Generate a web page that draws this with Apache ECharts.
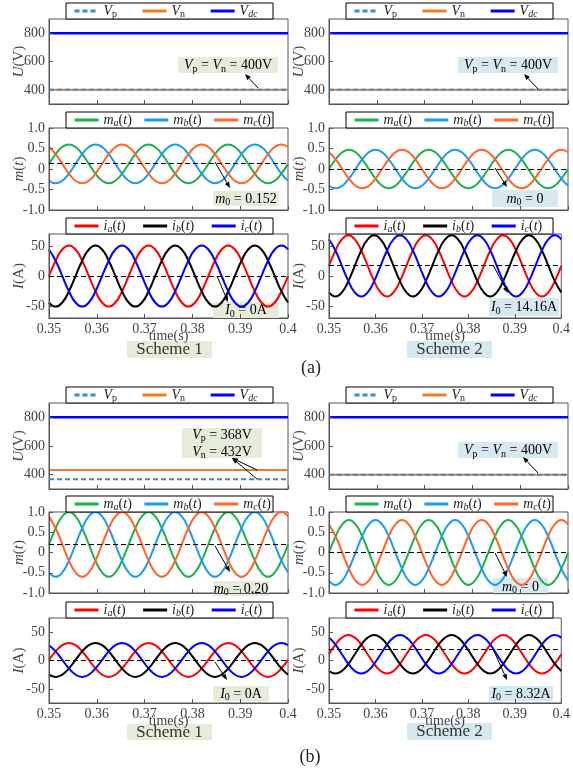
<!DOCTYPE html>
<html><head><meta charset="utf-8">
<script src="https://cdn.jsdelivr.net/npm/echarts@6/dist/echarts.min.js"></script>
<style>html,body{margin:0;padding:0;background:#fff}#c{width:573px;height:770px}</style>
</head><body><div id="c"></div>
<script>
// ---------------- DATA ----------------
const timeS = [0.35,0.351389,0.352778,0.354167,0.355556,0.356944,0.358333,0.359722,0.361111,0.3625,0.363889,0.365278,0.366667,0.368056,0.369444,0.370833,0.372222,0.373611,0.375,0.376389,0.377778,0.379167,0.380556,0.381944,0.383333,0.384722,0.386111,0.3875,0.388889,0.390278,0.391667,0.393056,0.394444,0.395833,0.397222,0.398611,0.4];
const uTime = [0.35, 0.4];
const xTicks = [0.35,0.36,0.37,0.38,0.39,0.4];
const uTicks = [400,600,800];
const mTicks = [-1,-0.5,0,0.5,1];
const iTicks = [-50,0,50];

// (a) Scheme 1 / Scheme 2 voltages
const vp_a1 = [400,400], vn_a1 = [400,400], vdc_a1 = [800,800];
const vp_a2 = [400,400], vn_a2 = [400,400], vdc_a2 = [800,800];
// (b)
const vp_b1 = [368,368], vn_b1 = [432,432], vdc_b1 = [800,800];
const vp_b2 = [400,400], vn_b2 = [400,400], vdc_b2 = [800,800];

// (a) Scheme 1 modulation
const ma_a1 = [0.125,0.363,0.536,0.6,0.536,0.363,0.125,-0.113,-0.286,-0.35,-0.286,-0.113,0.125,0.363,0.536,0.6,0.536,0.363,0.125,-0.113,-0.286,-0.35,-0.286,-0.113,0.125,0.363,0.536,0.6,0.536,0.363,0.125,-0.113,-0.286,-0.35,-0.286,-0.113,0.125];
const mb_a1 = [-0.286,-0.35,-0.286,-0.113,0.125,0.363,0.536,0.6,0.536,0.363,0.125,-0.113,-0.286,-0.35,-0.286,-0.113,0.125,0.363,0.536,0.6,0.536,0.363,0.125,-0.113,-0.286,-0.35,-0.286,-0.113,0.125,0.363,0.536,0.6,0.536,0.363,0.125,-0.113,-0.286];
const mc_a1 = [0.536,0.363,0.125,-0.113,-0.286,-0.35,-0.286,-0.113,0.125,0.363,0.536,0.6,0.536,0.363,0.125,-0.113,-0.286,-0.35,-0.286,-0.113,0.125,0.363,0.536,0.6,0.536,0.363,0.125,-0.113,-0.286,-0.35,-0.286,-0.113,0.125,0.363,0.536,0.6,0.536];
// (a) Scheme 2 modulation
const ma_a2 = [0,0.235,0.407,0.47,0.407,0.235,0,-0.235,-0.407,-0.47,-0.407,-0.235,0,0.235,0.407,0.47,0.407,0.235,0,-0.235,-0.407,-0.47,-0.407,-0.235,0,0.235,0.407,0.47,0.407,0.235,0,-0.235,-0.407,-0.47,-0.407,-0.235,0];
const mb_a2 = [-0.407,-0.47,-0.407,-0.235,0,0.235,0.407,0.47,0.407,0.235,0,-0.235,-0.407,-0.47,-0.407,-0.235,0,0.235,0.407,0.47,0.407,0.235,0,-0.235,-0.407,-0.47,-0.407,-0.235,0,0.235,0.407,0.47,0.407,0.235,0,-0.235,-0.407];
const mc_a2 = [0.407,0.235,0,-0.235,-0.407,-0.47,-0.407,-0.235,0,0.235,0.407,0.47,0.407,0.235,0,-0.235,-0.407,-0.47,-0.407,-0.235,0,0.235,0.407,0.47,0.407,0.235,0,-0.235,-0.407,-0.47,-0.407,-0.235,0,0.235,0.407,0.47,0.407];
// (a) Scheme 1 currents
const ia_a1 = [0,25.5,44.2,51,44.2,25.5,0,-25.5,-44.2,-51,-44.2,-25.5,0,25.5,44.2,51,44.2,25.5,0,-25.5,-44.2,-51,-44.2,-25.5,0,25.5,44.2,51,44.2,25.5,0,-25.5,-44.2,-51,-44.2,-25.5,0];
const ib_a1 = [-44.2,-51,-44.2,-25.5,0,25.5,44.2,51,44.2,25.5,0,-25.5,-44.2,-51,-44.2,-25.5,0,25.5,44.2,51,44.2,25.5,0,-25.5,-44.2,-51,-44.2,-25.5,0,25.5,44.2,51,44.2,25.5,0,-25.5,-44.2];
const ic_a1 = [44.2,25.5,0,-25.5,-44.2,-51,-44.2,-25.5,0,25.5,44.2,51,44.2,25.5,0,-25.5,-44.2,-51,-44.2,-25.5,0,25.5,44.2,51,44.2,25.5,0,-25.5,-44.2,-51,-44.2,-25.5,0,25.5,44.2,51,44.2];
// (a) Scheme 2 currents
const ia_a2 = [17,42.5,61.2,68,61.2,42.5,17,-8.5,-27.2,-34,-27.2,-8.5,17,42.5,61.2,68,61.2,42.5,17,-8.5,-27.2,-34,-27.2,-8.5,17,42.5,61.2,68,61.2,42.5,17,-8.5,-27.2,-34,-27.2,-8.5,17];
const ib_a2 = [-27.2,-34,-27.2,-8.5,17,42.5,61.2,68,61.2,42.5,17,-8.5,-27.2,-34,-27.2,-8.5,17,42.5,61.2,68,61.2,42.5,17,-8.5,-27.2,-34,-27.2,-8.5,17,42.5,61.2,68,61.2,42.5,17,-8.5,-27.2];
const ic_a2 = [61.2,42.5,17,-8.5,-27.2,-34,-27.2,-8.5,17,42.5,61.2,68,61.2,42.5,17,-8.5,-27.2,-34,-27.2,-8.5,17,42.5,61.2,68,61.2,42.5,17,-8.5,-27.2,-34,-27.2,-8.5,17,42.5,61.2,68,61.2];
// (b) Scheme 1 modulation
const ma_b1 = [0.2,0.6,0.893,1,0.893,0.6,0.2,-0.2,-0.493,-0.6,-0.493,-0.2,0.2,0.6,0.893,1,0.893,0.6,0.2,-0.2,-0.493,-0.6,-0.493,-0.2,0.2,0.6,0.893,1,0.893,0.6,0.2,-0.2,-0.493,-0.6,-0.493,-0.2,0.2];
const mb_b1 = [-0.493,-0.6,-0.493,-0.2,0.2,0.6,0.893,1,0.893,0.6,0.2,-0.2,-0.493,-0.6,-0.493,-0.2,0.2,0.6,0.893,1,0.893,0.6,0.2,-0.2,-0.493,-0.6,-0.493,-0.2,0.2,0.6,0.893,1,0.893,0.6,0.2,-0.2,-0.493];
const mc_b1 = [0.893,0.6,0.2,-0.2,-0.493,-0.6,-0.493,-0.2,0.2,0.6,0.893,1,0.893,0.6,0.2,-0.2,-0.493,-0.6,-0.493,-0.2,0.2,0.6,0.893,1,0.893,0.6,0.2,-0.2,-0.493,-0.6,-0.493,-0.2,0.2,0.6,0.893,1,0.893];
// (b) Scheme 2 modulation
const ma_b2 = [0,0.4,0.693,0.8,0.693,0.4,0,-0.4,-0.693,-0.8,-0.693,-0.4,0,0.4,0.693,0.8,0.693,0.4,0,-0.4,-0.693,-0.8,-0.693,-0.4,0,0.4,0.693,0.8,0.693,0.4,0,-0.4,-0.693,-0.8,-0.693,-0.4,0];
const mb_b2 = [-0.693,-0.8,-0.693,-0.4,0,0.4,0.693,0.8,0.693,0.4,0,-0.4,-0.693,-0.8,-0.693,-0.4,0,0.4,0.693,0.8,0.693,0.4,0,-0.4,-0.693,-0.8,-0.693,-0.4,0,0.4,0.693,0.8,0.693,0.4,0,-0.4,-0.693];
const mc_b2 = [0.693,0.4,0,-0.4,-0.693,-0.8,-0.693,-0.4,0,0.4,0.693,0.8,0.693,0.4,0,-0.4,-0.693,-0.8,-0.693,-0.4,0,0.4,0.693,0.8,0.693,0.4,0,-0.4,-0.693,-0.8,-0.693,-0.4,0,0.4,0.693,0.8,0.693];
// (b) Scheme 1 currents
const ia_b1 = [1,16,27,31,27,16,1,-14,-25,-29,-25,-14,1,16,27,31,27,16,1,-14,-25,-29,-25,-14,1,16,27,31,27,16,1,-14,-25,-29,-25,-14,1];
const ib_b1 = [-25,-29,-25,-14,1,16,27,31,27,16,1,-14,-25,-29,-25,-14,1,16,27,31,27,16,1,-14,-25,-29,-25,-14,1,16,27,31,27,16,1,-14,-25];
const ic_b1 = [27,16,1,-14,-25,-29,-25,-14,1,16,27,31,27,16,1,-14,-25,-29,-25,-14,1,16,27,31,27,16,1,-14,-25,-29,-25,-14,1,16,27,31,27];
// (b) Scheme 2 currents
const ia_b2 = [11,28,40.4,45,40.4,28,11,-6,-18.4,-23,-18.4,-6,11,28,40.4,45,40.4,28,11,-6,-18.4,-23,-18.4,-6,11,28,40.4,45,40.4,28,11,-6,-18.4,-23,-18.4,-6,11];
const ib_b2 = [-18.4,-23,-18.4,-6,11,28,40.4,45,40.4,28,11,-6,-18.4,-23,-18.4,-6,11,28,40.4,45,40.4,28,11,-6,-18.4,-23,-18.4,-6,11,28,40.4,45,40.4,28,11,-6,-18.4];
const ic_b2 = [40.4,28,11,-6,-18.4,-23,-18.4,-6,11,28,40.4,45,40.4,28,11,-6,-18.4,-23,-18.4,-6,11,28,40.4,45,40.4,28,11,-6,-18.4,-23,-18.4,-6,11,28,40.4,45,40.4];

// reference (dashed) levels m0 / I0
const ref_m_a1 = 0.152, ref_m_a2 = 0, ref_i_a1 = 0, ref_i_a2 = 18;
const ref_m_b1 = 0.2, ref_m_b2 = 0, ref_i_b1 = 0, ref_i_b2 = 19;

// ---------------- LAYOUT / STYLE ----------------
const FONT = '"Liberation Serif", "Times New Roman", serif';
const colLeft = [49, 329];
const PW = 239;
const rows = [
  {top:19, h:85, kind:'U', min:300, max:900},
  {top:128, h:82, kind:'m', min:-1, max:1},
  {top:234, h:84, kind:'I', min:-70, max:70},
  {top:403, h:86, kind:'U', min:300, max:900},
  {top:512, h:81, kind:'m', min:-1, max:1},
  {top:618, h:85, kind:'I', min:-75, max:75}
];
const panels = [
  {row:0,col:0,ser:[vp_a1,vn_a1,vdc_a1]},
  {row:0,col:1,ser:[vp_a2,vn_a2,vdc_a2]},
  {row:1,col:0,ser:[ma_a1,mb_a1,mc_a1],ref:ref_m_a1},
  {row:1,col:1,ser:[ma_a2,mb_a2,mc_a2],ref:ref_m_a2},
  {row:2,col:0,ser:[ia_a1,ib_a1,ic_a1],ref:ref_i_a1},
  {row:2,col:1,ser:[ia_a2,ib_a2,ic_a2],ref:ref_i_a2},
  {row:3,col:0,ser:[vp_b1,vn_b1,vdc_b1]},
  {row:3,col:1,ser:[vp_b2,vn_b2,vdc_b2]},
  {row:4,col:0,ser:[ma_b1,mb_b1,mc_b1],ref:ref_m_b1},
  {row:4,col:1,ser:[ma_b2,mb_b2,mc_b2],ref:ref_m_b2},
  {row:5,col:0,ser:[ia_b1,ib_b1,ic_b1],ref:ref_i_b1},
  {row:5,col:1,ser:[ia_b2,ib_b2,ic_b2],ref:ref_i_b2}
];
const kindDef = {
  U:{names:['Vp','Vn','Vdc'], colors:['#2f8fd6','#ee7d22','#0000ff'], ticks:uTicks, yname:'{i|U}{r|(V)}', legGap:24},
  m:{names:['ma','mb','mc'], colors:['#1db04c','#1d9bf0','#ff6428'], ticks:mTicks, yname:'{i|m}{r|(}{i|t}{r|)}', legGap:11},
  I:{names:['ia','ib','ic'], colors:['#ff0000','#000000','#0000ff'], ticks:iTicks, yname:'{i|I}{r|(A)}', legGap:16}
};
const legendText = {
  Vp:'{i|V}{s|p}', Vn:'{i|V}{s|n}', Vdc:'{i|V}{si|dc}',
  ma:'{i|m}{si|a}{r|(}{i|t}{r|)}', mb:'{i|m}{si|b}{r|(}{i|t}{r|)}', mc:'{i|m}{si|c}{r|(}{i|t}{r|)}',
  ia:'{i|i}{si|a}{r|(}{i|t}{r|)}', ib:'{i|i}{si|b}{r|(}{i|t}{r|)}', ic:'{i|i}{si|c}{r|(}{i|t}{r|)}'
};
function rich(size, color){
  const sub = Math.round(size*0.68);
  return {
    i:{fontFamily:FONT,fontStyle:'italic',fontSize:size,lineHeight:size+3,verticalAlign:'middle',color:color},
    r:{fontFamily:FONT,fontSize:size,lineHeight:size+3,verticalAlign:'middle',color:color},
    s:{fontFamily:FONT,fontSize:sub,lineHeight:sub,verticalAlign:'bottom',color:color},
    si:{fontFamily:FONT,fontStyle:'italic',fontSize:sub,lineHeight:sub,verticalAlign:'bottom',color:color}
  };
}
const G1 = '#e5ecda', G2 = '#d6e9f0';
const notes = [
  {box:[178,57,100,16], bg:G1, text:'{i|V}{s|p}{r| = }{i|V}{s|n}{r| = 400V}', arrows:[[258,88,245,74]]},
  {box:[458,57,100,16], bg:G2, text:'{i|V}{s|p}{r| = }{i|V}{s|n}{r| = 400V}', arrows:[[538,89,524,74]]},
  {box:[213,191,66,15], bg:G1, text:'{i|m}{s|0}{r| = 0.152}', arrows:[[215,162,230,188]]},
  {box:[492,190,66,17], bg:G2, text:'{i|m}{s|0}{r| = 0}', arrows:[[495,168,507,187]]},
  {box:[213,302,66,16], bg:G1, text:'{i|I}{s|0}{r| = 0A}', arrows:[[217,276,228,302]]},
  {box:[489,298,70,18], bg:G2, text:'{i|I}{s|0}{r| = 14.16A}', arrows:[[493,265,508,293]]},
  {box:[182,428,80,30], bg:G1, text:'{i|V}{s|p}{r| = 368V}\n{i|V}{s|n}{r| = 432V}', arrows:[[257,470,232,458],[257,479,232,458]]},
  {box:[458,442,100,16], bg:G2, text:'{i|V}{s|p}{r| = }{i|V}{s|n}{r| = 400V}', arrows:[[538,473,523,457]]},
  {box:[213,581,56,15], bg:G1, text:'{i|m}{s|0}{r| = 0.20}', arrows:[[215,546,230,572]]},
  {box:[493,578,55,17], bg:G2, text:'{i|m}{s|0}{r| = 0}', arrows:[[495,553,507,577]]},
  {box:[213,686,56,15], bg:G1, text:'{i|I}{s|0}{r| = 0A}', arrows:[[215,662,227,680]]},
  {box:[489,686,64,15], bg:G2, text:'{i|I}{s|0}{r| = 8.32A}', arrows:[[493,649,507,680]]}
];
const schemes = [
  {box:[127,341,85,17], bg:G1, text:'Scheme 1'},
  {box:[407,341,85,17], bg:G2, text:'Scheme 2'},
  {box:[127,724,85,16], bg:G1, text:'Scheme 1'},
  {box:[407,723,85,17], bg:G2, text:'Scheme 2'}
];

// ---------------- BUILD ----------------
const grid=[], xAxis=[], yAxis=[], series=[], legend=[], gfx=[];
const fmtX = v => String(+(+v).toFixed(2));
const fmtY = {U: v => String(v), m: v => v===0 ? '0' : (+v).toFixed(1), I: v => String(v)};

panels.forEach((p, g) => {
  const r = rows[p.row], k = kindDef[r.kind];
  const L = colLeft[p.col];
  const bottom = (p.row === 2 || p.row === 5);
  grid.push({left:L, top:r.top, width:PW, height:r.h, show:true, borderColor:'#555', borderWidth:1, backgroundColor:'transparent'});
  xAxis.push({
    gridIndex:g, type:'value', min:0.35, max:0.4, z:3,
    axisLine:{show:true, onZero:false, lineStyle:{color:'#555', width:1}},
    axisTick:{show:true, inside:true, length:4, customValues:xTicks, lineStyle:{color:'#555'}},
    axisLabel:{show:bottom, customValues:xTicks, formatter:fmtX, fontFamily:FONT, fontSize:14, color:'#444', margin:4},
    splitLine:{show:false},
    name: bottom ? 'time(s)' : '', nameLocation:'middle', nameGap:11, nameMoveOverlap:false,
    nameTextStyle:{fontFamily:FONT, fontSize:14, color:'#444'}
  });
  yAxis.push({
    gridIndex:g, type:'value', min:r.min, max:r.max, z:3,
    axisLine:{show:true, onZero:false, lineStyle:{color:'#555', width:1}},
    axisTick:{show:true, inside:true, length:4, customValues:k.ticks, lineStyle:{color:'#555'}},
    axisLabel:{customValues:k.ticks, formatter:fmtY[r.kind], fontFamily:FONT, fontSize:14, color:'#444', margin:4},
    splitLine:{show:false},
    name:k.yname, nameLocation:'middle', nameGap:21, nameMoveOverlap:false,
    nameTextStyle:{rich:rich(15,'#444')}
  });
  const times = r.kind === 'U' ? uTime : timeS;
  p.ser.forEach((vals, j) => {
    const s = {
      type:'line', name:k.names[j], xAxisIndex:g, yAxisIndex:g,
      data: times.map((t,i) => [t, vals[i]]),
      symbol:'none', showSymbol:false, smooth: r.kind !== 'U',
      lineStyle:{color:k.colors[j], width: (r.kind==='U' && j===2) ? 2.5 : 2},
      itemStyle:{color:k.colors[j]},
      z: (r.kind==='U' && j===0) ? 3 : 2,
      silent:true
    };
    if (r.kind==='U' && j===0) s.lineStyle.type = [5,3];
    if (j === 0 && p.ref !== undefined) {
      s.markLine = {silent:true, symbol:'none', label:{show:false},
        lineStyle:{type:[5,3], color:'#000', width:1.2},
        data:[{yAxis:p.ref}]};
    }
    series.push(s);
  });
  // legend box
  gfx.push({type:'rect', shape:{x:L+17, y:r.top-16, width:207, height:16},
    style:{fill:'#fff', stroke:'#000', lineWidth:1}, z:6});
  legend.push({
    left:L+24, top:r.top-15, padding:0, itemGap:k.legGap, itemWidth:24, itemHeight:14,
    data:k.names, selectedMode:false, z:10,
    lineStyle:{width:3},
    itemStyle:{opacity:0, borderWidth:0},
    formatter: n => legendText[n],
    textStyle:{rich:rich(14,'#222')}
  });
});

function arrow(x1,y1,x2,y2){
  const dx=x2-x1, dy=y2-y1, Ln=Math.hypot(dx,dy), ux=dx/Ln, uy=dy/Ln;
  const hl=6, hw=2.4, bx=x2-ux*hl, by=y2-uy*hl;
  gfx.push({type:'line', shape:{x1:x1,y1:y1,x2:bx,y2:by}, style:{stroke:'#000', lineWidth:1}, z:20});
  gfx.push({type:'polygon', shape:{points:[[x2,y2],[bx-uy*hw,by+ux*hw],[bx+uy*hw,by-ux*hw]]}, style:{fill:'#000'}, z:20});
}
notes.forEach(n => {
  const [x,y,w,h] = n.box;
  gfx.push({type:'rect', shape:{x:x,y:y,width:w,height:h}, style:{fill:n.bg}, z:1});
  gfx.push({type:'text', x:x+w/2, y:y+h/2+0.5, z:1.5,
    style:{text:n.text, rich:rich(14,'#222'), align:'center', verticalAlign:'middle', textAlign:'center', textVerticalAlign:'middle'}});
  n.arrows.forEach(a => arrow(a[0],a[1],a[2],a[3]));
});
schemes.forEach(s => {
  const [x,y,w,h] = s.box;
  gfx.push({type:'rect', shape:{x:x,y:y,width:w,height:h}, style:{fill:s.bg}, z:1});
  gfx.push({type:'text', x:x+w/2, y:y+h/2+0.5, z:1.5,
    style:{text:s.text, font:'17px '+FONT, fill:'#333', align:'center', verticalAlign:'middle', textAlign:'center', textVerticalAlign:'middle'}});
});
[['(a)',311,368],['(b)',310,757]].forEach(t => {
  gfx.push({type:'text', x:t[1], y:t[2], z:1.5,
    style:{text:t[0], font:'18px '+FONT, fill:'#222', align:'center', verticalAlign:'middle', textAlign:'center', textVerticalAlign:'middle'}});
});

const chart = echarts.init(document.getElementById('c'), null, {renderer:'canvas'});
chart.setOption({
  animation:false, backgroundColor:'#fff',
  grid:grid, xAxis:xAxis, yAxis:yAxis, series:series, legend:legend,
  graphic:{elements:gfx}
});
</script></body></html>
